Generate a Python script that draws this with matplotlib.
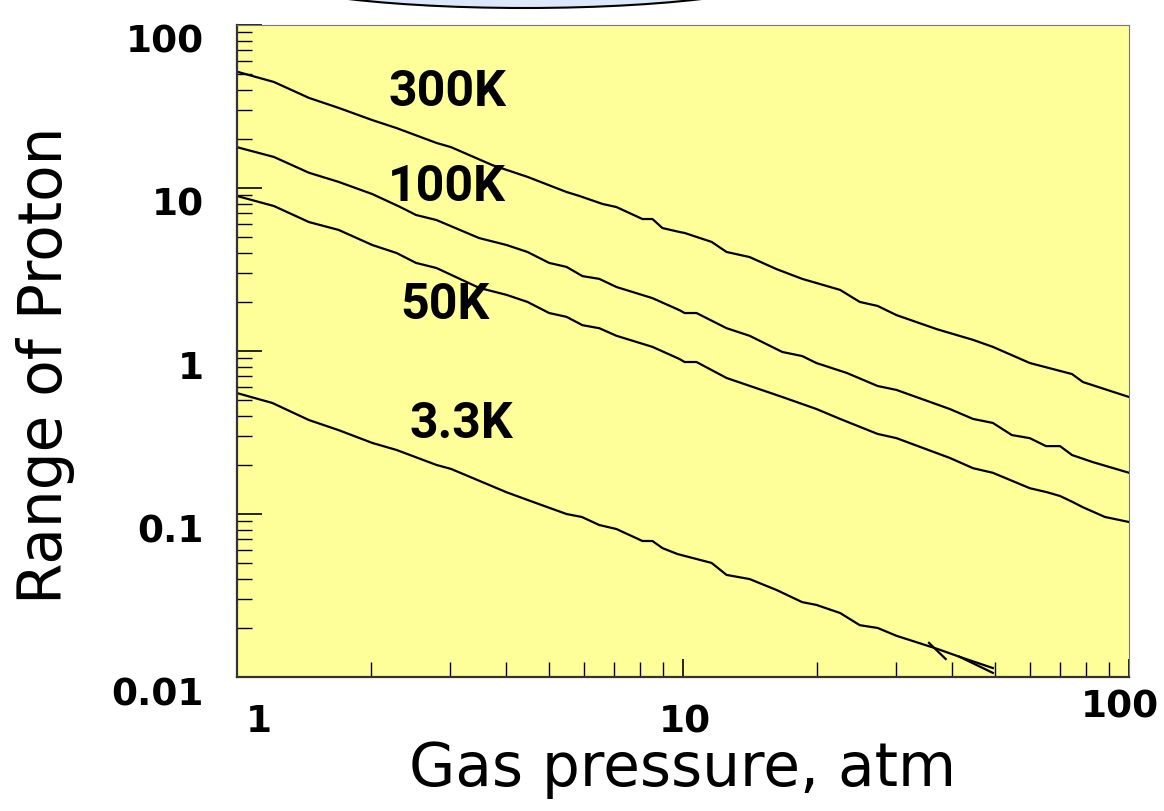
import matplotlib.pyplot as plt
from matplotlib.patches import Ellipse
from matplotlib.ticker import LogLocator, NullFormatter

# Proton range vs gas pressure
p_300 = [1.00, 1.21, 1.45, 1.69, 2.01, 2.28, 2.80, 3.02, 3.74, 4.48, 5.48,
         5.86, 6.60, 7.09, 8.11, 8.54, 8.99, 9.82, 10.08, 10.72, 11.59, 12.52,
         14.10, 16.2, 18.5, 22.5, 24.9, 27.3, 30.1, 37.1, 44.7, 49.5, 59.9,
         74.5, 78.8, 100.0]
r_300 = [51.7, 44.7, 35.7, 31.0, 26.1, 23.3, 18.9, 17.8, 13.8, 11.7, 9.45,
         8.93, 7.98, 7.64, 6.45, 6.45, 5.68, 5.37, 5.30, 5.01, 4.67, 4.05,
         3.77, 3.18, 2.77, 2.37, 2.00, 1.89, 1.66, 1.36, 1.17, 1.06, 0.844,
         0.722, 0.645, 0.522]

p_100 = [1.00, 1.21, 1.45, 1.69, 2.01, 2.31, 2.52, 2.80, 3.49, 4.02, 4.48,
         5.01, 5.48, 5.95, 6.49, 7.09, 8.54, 9.82, 10.08, 10.72, 12.52, 14.10,
         16.7, 18.5, 19.9, 23.3, 27.3, 30.1, 39.6, 44.7, 49.5, 54.6, 59.9,
         65.1, 70.0, 74.5, 83.0, 100.0]
r_100 = [17.8, 15.5, 12.4, 10.9, 9.18, 7.70, 6.83, 6.36, 4.93, 4.47, 4.05,
         3.47, 3.28, 2.88, 2.77, 2.47, 2.11, 1.78, 1.71, 1.71, 1.38, 1.24,
         0.986, 0.931, 0.844, 0.733, 0.610, 0.577, 0.441, 0.383, 0.362, 0.305,
         0.292, 0.261, 0.261, 0.230, 0.208, 0.179]

p_50 = [1.00, 1.21, 1.45, 1.69, 2.01, 2.28, 2.52, 2.80, 3.49, 4.02, 4.48,
        5.01, 5.48, 5.95, 6.49, 7.09, 8.54, 9.82, 10.08, 10.72, 12.52, 16.7,
        18.5, 19.9, 22.5, 27.3, 30.1, 39.6, 44.7, 49.5, 59.9, 65.5, 70.0,
        74.5, 78.8, 88.3, 100.0]
r_50 = [8.93, 7.75, 6.18, 5.53, 4.47, 3.99, 3.47, 3.23, 2.44, 2.21, 2.00,
        1.71, 1.62, 1.44, 1.38, 1.24, 1.06, 0.893, 0.856, 0.856, 0.683, 0.522,
        0.473, 0.441, 0.383, 0.310, 0.292, 0.221, 0.191, 0.179, 0.144, 0.136,
        0.129, 0.119, 0.110, 0.0959, 0.0893]

p_3 = [1.00, 1.20, 1.45, 1.69, 2.01, 2.28, 2.80, 3.02, 4.02, 4.48, 5.48,
       5.93, 6.49, 7.09, 8.11, 8.54, 8.99, 9.72, 11.59, 12.52, 14.10, 16.2,
       18.5, 19.9, 22.5, 24.9, 27.3, 30.1, 37.1, 41.7, 49.5]
r_3 = [0.552, 0.480, 0.377, 0.327, 0.273, 0.247, 0.200, 0.189, 0.136, 0.122,
       0.100, 0.0959, 0.0856, 0.0809, 0.0683, 0.0683, 0.0618, 0.0568, 0.0501,
       0.0423, 0.0399, 0.0342, 0.0288, 0.0277, 0.0247, 0.0208, 0.0200, 0.0179,
       0.0149, 0.0133, 0.01135]

# stray strokes at the end of the 3.3K curve
p_3_tail = [41.7, 49.5]
r_3_tail = [0.0133, 0.0106]
p_3_mark = [35.6, 38.8]
r_3_mark = [0.0162, 0.0129]

curve_labels = ["300K", "100K", "50K", "3.3K"]
label_p = [2.96, 2.96, 2.93, 3.18]
label_r = [38.3, 10.1, 1.91, 0.356]

fig = plt.figure(figsize=(11.64, 8.11), dpi=100)

# cut-off rounded box at the top edge of the slide (figure pixels)
fig.patches.append(Ellipse((525, 811 + 32), 560, 80, transform=None,
                           facecolor="#d9e8fa", edgecolor="black",
                           linewidth=1.5, zorder=0))

ax = fig.add_axes([0.2036, 0.1652, 0.7664, 0.804])
ax.set_facecolor("#ffff99")

for p, r in [(p_300, r_300), (p_100, r_100), (p_50, r_50), (p_3, r_3),
             (p_3_tail, r_3_tail), (p_3_mark, r_3_mark)]:
    ax.plot(p, r, color="black", linewidth=1.6)

for text, x, y in zip(curve_labels, label_p, label_r):
    ax.text(x, y, text, fontsize=36, fontweight="bold", family="Roboto",
            ha="center", va="center")

ax.set_xscale("log")
ax.set_yscale("log")
ax.set_xlim(1, 100)
ax.set_ylim(0.01, 100)

ax.yaxis.set_minor_locator(LogLocator(base=10, subs=range(2, 10)))
ax.xaxis.set_minor_locator(LogLocator(base=10, subs=range(2, 10)))
ax.yaxis.set_minor_formatter(NullFormatter())
ax.xaxis.set_minor_formatter(NullFormatter())

ax.set_yticks([0.01, 0.1, 1, 10, 100])
ax.set_yticklabels(["0.01", "0.1", "1", "10", "100"])
ax.set_xticks([1, 10, 100])
ax.set_xticklabels([])

ax.tick_params(axis="y", which="major", direction="in", length=18,
               width=1.2, labelsize=27, pad=24)
ax.tick_params(axis="y", which="minor", direction="in", length=11, width=1.0)
ax.tick_params(axis="x", which="major", direction="in", length=13, width=1.2)
ax.tick_params(axis="x", which="minor", direction="in", length=11, width=1.0)
for lab in ax.get_yticklabels():
    lab.set_fontweight("bold")
    lab.set_verticalalignment("top")

# x tick labels placed like the reference (100 sits a little higher)
xlab_text = ["1", "10", "100"]
xlab_pos = [1.12, 10.1, 95.5]
xlab_dy = [-0.069, -0.069, -0.046]
for text, x, dy in zip(xlab_text, xlab_pos, xlab_dy):
    ax.text(x, dy, text, transform=ax.get_xaxis_transform(), fontsize=27,
            fontweight="bold", ha="center", va="center")

for side in ["top", "right"]:
    ax.spines[side].set_color("#777777")
for side in ["left", "bottom"]:
    ax.spines[side].set_color("#333333")
    ax.spines[side].set_linewidth(1.6)

ax.set_xlabel("Gas pressure, atm", fontsize=43, labelpad=42)
ax.set_ylabel("Range of Proton", fontsize=43)
ax.yaxis.set_label_coords(-0.182, 0.478)

fig.savefig("out.png", dpi=100)
